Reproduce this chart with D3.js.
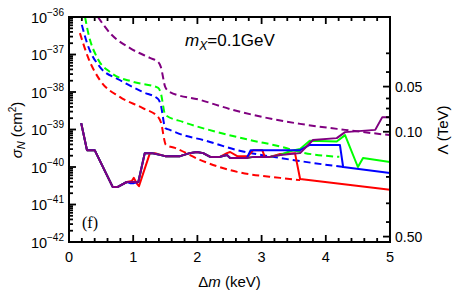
<!DOCTYPE html>
<html><head><meta charset="utf-8">
<script src="https://cdn.jsdelivr.net/npm/d3@7"></script>
<style>body{margin:0;background:#fff}svg{display:block}</style>
</head><body>
<svg id="c" width="459" height="300"></svg>
<script>
// ---- data (Δm in keV, log10 σ_N in cm^2) ----
const xTickValues = [0, 1, 2, 3, 4, 5];
const yTickExponents = [-42, -41, -40, -39, -38, -37, -36];
const lambdaTickLabels = ["0.05", "0.10", "0.50"];
const lambdaMinorTicks = [0.03, 0.04, 0.06, 0.07, 0.08, 0.09, 0.2, 0.3, 0.4];

const redDashDm  = [0.17,0.30,0.48,0.79,1.15,1.39,1.43,1.51,1.65,2.04,2.62,3.29,3.60];
const redDashLog = [-36.43,-37.09,-37.68,-38.13,-38.43,-38.67,-38.80,-39.41,-39.49,-39.81,-40.13,-40.29,-40.35];
const blueDashDm  = [0.20,0.28,0.48,0.79,1.15,1.39,1.43,1.50,1.57,1.78,2.09,2.62,3.29,4.27];
const blueDashLog = [-36.21,-36.69,-37.33,-37.68,-38.00,-38.19,-38.35,-38.96,-39.01,-39.15,-39.28,-39.55,-39.76,-40.00];
const greenDashDm  = [0.25,0.30,0.44,0.64,1.00,1.39,1.43,1.50,1.78,2.31,2.82,3.33,3.60,4.21];
const greenDashLog = [-36.00,-36.43,-37.09,-37.47,-37.73,-37.89,-38.03,-38.61,-38.80,-39.07,-39.28,-39.47,-39.60,-39.73];
const purpleDashDm  = [0.45,0.64,0.95,1.26,1.39,1.43,1.50,1.57,2.04,2.56,3.08,3.60,4.30,5.00];
const purpleDashLog = [-36.00,-36.43,-36.83,-37.09,-37.20,-37.33,-37.87,-38.00,-38.21,-38.48,-38.69,-38.85,-39.01,-39.15];

const redSolidDm  = [0.19,0.28,0.40,0.68,0.76,0.90,0.98,1.01,1.06,1.09,1.26,1.34,1.50,1.73,1.88,1.99,2.09,2.20,2.35,2.46,2.51,2.62,2.79,2.87,3.01,3.05,3.13,3.29,3.52,3.60,5.00];
const redSolidLog = [-38.83,-39.55,-39.55,-40.53,-40.53,-40.40,-40.37,-40.29,-40.45,-40.51,-39.63,-39.63,-39.71,-39.71,-39.63,-39.60,-39.63,-39.73,-39.73,-39.63,-39.60,-39.71,-39.71,-39.55,-39.55,-39.73,-39.73,-39.65,-39.63,-40.32,-40.61];
const greenSolidDm  = [0.19,0.28,0.40,0.68,0.76,0.90,1.08,1.18,1.29,1.50,1.73,1.88,1.99,2.09,2.20,2.35,2.46,2.51,2.77,2.87,3.13,3.29,3.44,3.60,3.75,4.17,4.30,4.50,4.58,5.00];
const greenSolidLog = [-38.83,-39.55,-39.55,-40.53,-40.53,-40.40,-40.40,-39.63,-39.63,-39.71,-39.71,-39.63,-39.60,-39.63,-39.73,-39.73,-39.68,-39.76,-39.76,-39.73,-39.73,-39.68,-39.58,-39.52,-39.30,-39.32,-39.15,-40.00,-39.76,-39.87];
const blueSolidDm  = [0.19,0.28,0.40,0.68,0.76,0.90,0.95,1.01,1.08,1.18,1.29,1.50,1.73,1.88,1.99,2.09,2.20,2.35,2.46,2.51,2.77,2.83,3.60,3.75,4.22,4.27,5.00];
const blueSolidLog = [-38.83,-39.55,-39.55,-40.53,-40.53,-40.40,-40.43,-40.43,-40.40,-39.63,-39.63,-39.71,-39.71,-39.63,-39.60,-39.63,-39.73,-39.73,-39.68,-39.76,-39.76,-39.55,-39.55,-39.41,-39.41,-40.00,-40.16];
const purpleSolidDm  = [0.19,0.28,0.40,0.68,0.76,0.90,1.08,1.18,1.29,1.50,1.73,1.88,1.99,2.09,2.20,2.35,2.46,2.51,2.77,2.87,3.13,3.29,3.60,3.80,4.17,4.30,4.77,4.88,5.00];
const purpleSolidLog = [-38.83,-39.55,-39.55,-40.53,-40.53,-40.40,-40.40,-39.63,-39.63,-39.71,-39.71,-39.63,-39.60,-39.63,-39.73,-39.73,-39.68,-39.76,-39.76,-39.73,-39.73,-39.68,-39.63,-39.28,-39.23,-39.07,-39.01,-38.67,-38.67];

const seriesList = [
  {dm: redDashDm, lg: redDashLog, color: "#ff0000", dash: true},
  {dm: blueDashDm, lg: blueDashLog, color: "#0000ff", dash: true},
  {dm: greenDashDm, lg: greenDashLog, color: "#00ff00", dash: true},
  {dm: purpleDashDm, lg: purpleDashLog, color: "#800080", dash: true},
  {dm: redSolidDm, lg: redSolidLog, color: "#ff0000", dash: false},
  {dm: greenSolidDm, lg: greenSolidLog, color: "#00ff00", dash: false},
  {dm: blueSolidDm, lg: blueSolidLog, color: "#0000ff", dash: false},
  {dm: purpleSolidDm, lg: purpleSolidLog, color: "#800080", dash: false}
];

// ---- layout ----
const L = 69, R = 390, T = 17, B = 242;
const svg = d3.select("#c");
const font = "'Liberation Sans', Arial, sans-serif";

const x = d3.scaleLinear().domain([0, 5]).range([L, R]);
const y = d3.scaleLog().domain([1e-42, 1e-36]).range([B, T]);
// Λ ∝ σ^(-1/4); Λ = 0.10 TeV at σ = 10^-39.06
const lamTop = 0.1 * Math.pow(10, (-36 + 39.06) / -4);
const lamBot = 0.1 * Math.pow(10, (-42 + 39.06) / -4);
const yLam = d3.scaleLog().domain([lamTop, lamBot]).range([T, B]);

svg.append("defs").append("clipPath").attr("id", "clip")
  .append("rect").attr("x", L).attr("y", T).attr("width", R - L).attr("height", B - T);

const g = svg.append("g").attr("clip-path", "url(#clip)");
const lineSolid = d3.line().x(d => x(d[0])).y(d => y(Math.pow(10, d[1])));
const lineDash = d3.line().x(d => x(d[0])).y(d => y(Math.pow(10, d[1]))).curve(d3.curveMonotoneX);

seriesList.forEach(s => {
  const pts = s.dm.map((v, i) => [v, s.lg[i]]);
  g.append("path").attr("d", (s.dash ? lineDash : lineSolid)(pts))
    .attr("fill", "none").attr("stroke", s.color).attr("stroke-width", 2)
    .attr("stroke-linejoin", "round")
    .attr("stroke-dasharray", s.dash ? "7,4" : null);
});

// ---- axes ----
const axG = svg.append("g").attr("stroke", "#000").attr("stroke-width", 1.8);
// bottom & top x ticks
const xMinor = d3.range(0, 5.001, 0.2).map(v => +v.toFixed(1)).filter(v => !xTickValues.includes(v));
xTickValues.forEach(v => {
  axG.append("line").attr("x1", x(v)).attr("x2", x(v)).attr("y1", B).attr("y2", B - 7);
  axG.append("line").attr("x1", x(v)).attr("x2", x(v)).attr("y1", T).attr("y2", T + 7);
});
xMinor.forEach(v => {
  axG.append("line").attr("x1", x(v)).attr("x2", x(v)).attr("y1", B).attr("y2", B - 4);
  axG.append("line").attr("x1", x(v)).attr("x2", x(v)).attr("y1", T).attr("y2", T + 4);
});
// left y ticks
yTickExponents.forEach(e => {
  const yy = y(Math.pow(10, e));
  axG.append("line").attr("x1", L).attr("x2", L + 7).attr("y1", yy).attr("y2", yy);
  if (e < -36) {
    for (let m = 2; m <= 9; m++) {
      const ym = y(m * Math.pow(10, e));
      axG.append("line").attr("x1", L).attr("x2", L + 4).attr("y1", ym).attr("y2", ym);
    }
  }
});
// right Λ ticks
lambdaTickLabels.forEach(t => {
  const yy = yLam(+t);
  axG.append("line").attr("x1", R).attr("x2", R - 7).attr("y1", yy).attr("y2", yy);
});
lambdaMinorTicks.forEach(t => {
  const yy = yLam(t);
  axG.append("line").attr("x1", R).attr("x2", R - 4).attr("y1", yy).attr("y2", yy);
});
// frame
svg.append("rect").attr("x", L).attr("y", T).attr("width", R - L).attr("height", B - T)
  .attr("fill", "none").attr("stroke", "#000").attr("stroke-width", 2);

// ---- labels ----
xTickValues.forEach(v => {
  svg.append("text").attr("x", x(v)).attr("y", 262).attr("text-anchor", "middle")
    .attr("font-family", font).attr("font-size", 14.5).text(v);
});
yTickExponents.forEach(e => {
  const yy = y(Math.pow(10, e));
  const t = svg.append("text").attr("x", 64).attr("y", yy + 5.5).attr("text-anchor", "end")
    .attr("font-family", font).attr("font-size", 14.5);
  t.append("tspan").text("10");
  t.append("tspan").attr("dy", -7).attr("font-size", 10).text("\u2212" + Math.abs(e));
});
lambdaTickLabels.forEach(t => {
  svg.append("text").attr("x", 395).attr("y", yLam(+t) + 5).attr("font-family", font)
    .attr("font-size", 14).text(t);
});

// axis titles
const xt = svg.append("text").attr("x", (L + R) / 2).attr("y", 287).attr("text-anchor", "middle")
  .attr("font-family", font).attr("font-size", 15);
xt.append("tspan").text("\u0394");
xt.append("tspan").attr("font-style", "italic").text("m");
xt.append("tspan").text(" (keV)");

const yt = svg.append("text").attr("transform", "translate(22,130) rotate(-90)")
  .attr("text-anchor", "middle").attr("font-family", font).attr("font-size", 15);
yt.append("tspan").attr("font-style", "italic").text("\u03c3");
yt.append("tspan").attr("font-style", "italic").attr("font-size", 11).attr("dy", 3).text("N");
yt.append("tspan").attr("dy", -3).text(" (cm");
yt.append("tspan").attr("font-size", 10).attr("dy", -6).text("2");
yt.append("tspan").attr("dy", 6).text(")");

svg.append("text").attr("transform", "translate(448,130) rotate(-90)")
  .attr("text-anchor", "middle").attr("font-family", font).attr("font-size", 15)
  .text("\u039b (TeV)");

// annotation
const ann = svg.append("text").attr("x", 230).attr("y", 46).attr("text-anchor", "middle")
  .attr("font-family", font).attr("font-size", 17);
ann.append("tspan").attr("font-style", "italic").text("m");
ann.append("tspan").attr("font-style", "italic").attr("font-size", 12).attr("dy", 4).text("X");
ann.append("tspan").attr("dy", -4).text("=0.1GeV");

svg.append("text").attr("x", 82).attr("y", 228)
  .attr("font-family", "'Liberation Serif', 'Times New Roman', serif").attr("font-size", 16).text("(f)");
</script>
</body></html>
